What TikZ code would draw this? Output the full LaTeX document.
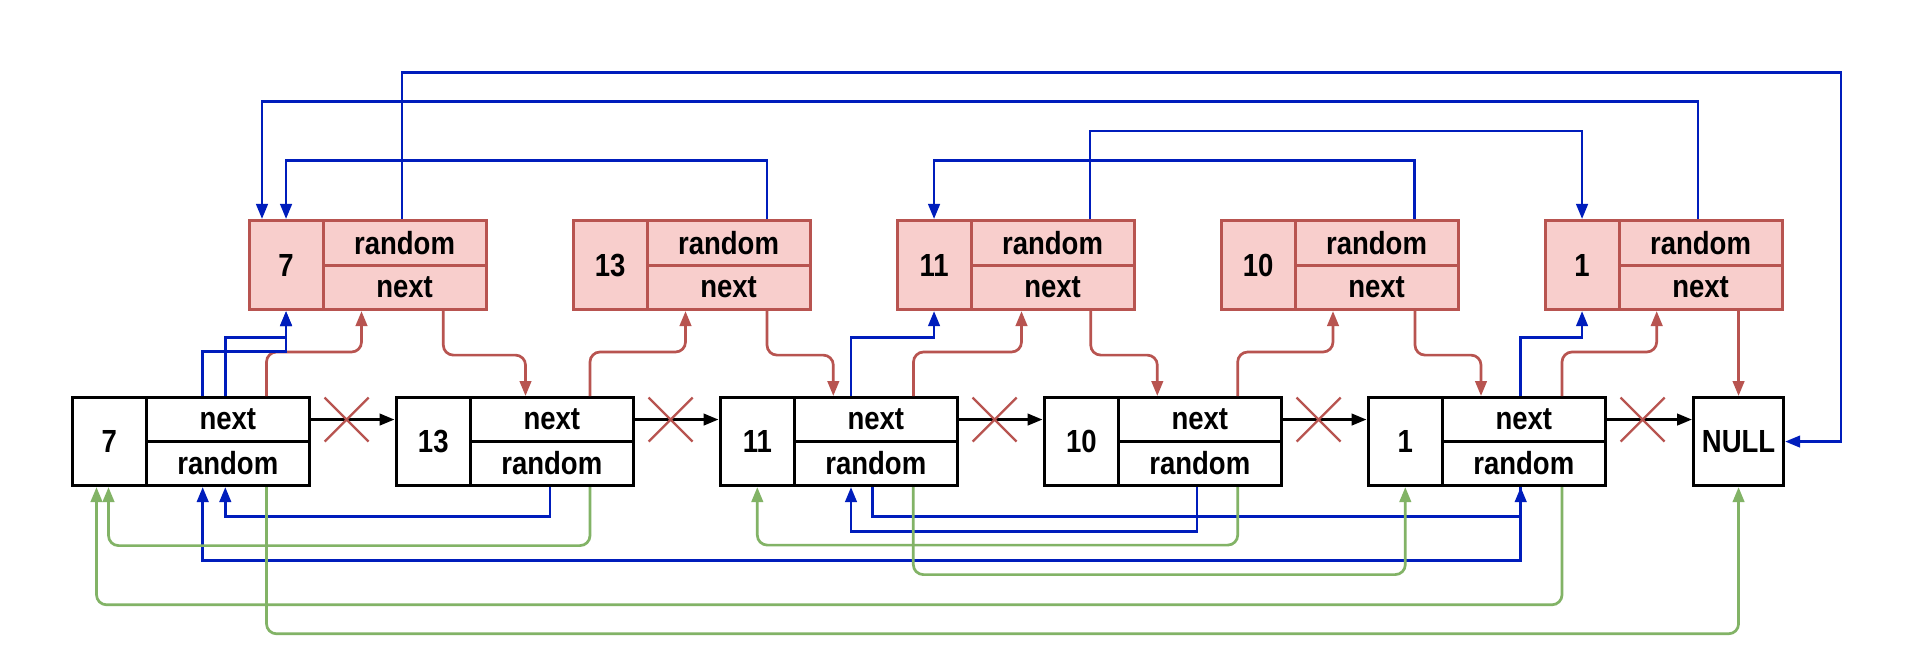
\documentclass[tikz,border=0pt]{standalone}
\usepackage{fontspec}
\setmainfont{Liberation Sans}[FakeStretch=0.86]
\usetikzlibrary{arrows.meta,calc}
\definecolor{rline}{HTML}{B85450}
\definecolor{rfill}{HTML}{F8CECC}
\definecolor{bline}{HTML}{001DBC}
\definecolor{gline}{HTML}{82B366}
\tikzset{
  lbl/.style={font=\fontsize{32}{38}\selectfont\bfseries, text=black},
  bval/.style={lbl, draw=black, line width=3.1pt, fill=white, inner sep=0pt, anchor=north west, minimum width=74.5pt, minimum height=88pt},
  bfld/.style={lbl, draw=black, line width=3.1pt, fill=white, inner sep=0pt, anchor=north west, minimum width=162.5pt, minimum height=44pt},
  rval/.style={lbl, draw=rline, line width=3.1pt, fill=rfill, inner sep=0pt, anchor=north west, minimum width=74pt, minimum height=89pt},
  rfld/.style={lbl, draw=rline, line width=3.1pt, fill=rfill, inner sep=0pt, anchor=north west, minimum width=163pt, minimum height=44.5pt},
  tip/.style={-{Triangle[length=15pt,width=11.5pt]}},
  redc/.style={tip, draw=rline, line width=2.7pt, rounded corners=10pt},
  greenc/.style={tip, draw=gline, line width=2.7pt, rounded corners=10pt},
  bluec/.style={tip, draw=bline, line width=2.7pt},
  blackc/.style={tip, draw=black, line width=2.7pt},
  xmark/.style={draw=rline, line width=2.3pt},
}
\begin{document}
\begin{tikzpicture}[x=1pt,y=-1pt]
\fill[white] (0,0) rectangle (1906,655);
\useasboundingbox (0,0) rectangle (1906,655);

% original list (black)
\foreach \v/\x in {7/70.5, 13/394.5, 11/718.5, 10/1042.5, 1/1366.5} {
  \node[bval] (bv\v) at (\x,396) {\v};
  \node[bfld] (bn\v) at (\x+74.5,396) {next};
  \node[bfld] (br\v) at (\x+74.5,440) {random};
}
\node[bval, minimum width=90pt] (null) at (1692,396) {NULL};

% copies (red)
\foreach \v/\x in {7/247.5, 13/571.5, 11/895.5, 10/1219.5, 1/1543.5} {
  \node[rval] (cv\v) at (\x,219) {\v};
  \node[rfld] (cr\v) at (\x+74,219) {random};
  \node[rfld] (cn\v) at (\x+74,263.5) {next};
}

% black next arrows and crosses
\foreach \a/\b in {7/13, 13/11, 11/10, 10/1} {
  \draw[blackc] (bn\a.east) -- (bn\a.east -| bv\b.west);
  \draw[xmark] ([shift={(14,-22)}]bn\a.east) -- ++(44,44)
               ([shift={(14,22)}]bn\a.east) -- ++(44,-44);
}
\draw[blackc] (bn1.east) -- (bn1.east -| null.west);
\draw[xmark] ([shift={(14,-22)}]bn1.east) -- ++(44,44)
             ([shift={(14,22)}]bn1.east) -- ++(44,-44);

% red: original next -> copy
\draw[redc] ([xshift=196pt]bv7.north west) -- ++(0,-44) -| ([xshift=114pt]cv7.south west);
\draw[redc] ([xshift=195.5pt]bv13.north west) -- ++(0,-44) -| ([xshift=114pt]cv13.south west);
\draw[redc] ([xshift=195pt]bv11.north west) -- ++(0,-44) -| ([xshift=126pt]cv11.south west);
\draw[redc] ([xshift=195.2pt]bv10.north west) -- ++(0,-44) -| ([xshift=113.5pt]cv10.south west);
\draw[redc] ([xshift=195.5pt]bv1.north west) -- ++(0,-44) -| ([xshift=113.2pt]cv1.south west);
% red: copy next -> following original
\draw[redc] ([xshift=195.8pt]cv7.south west) -- ++(0,44) -| ([xshift=131pt]bv13.north west);
\draw[redc] ([xshift=195.5pt]cv13.south west) -- ++(0,44) -| ([xshift=114.8pt]bv11.north west);
\draw[redc] ([xshift=195.2pt]cv11.south west) -- ++(0,44) -| ([xshift=114.8pt]bv10.north west);
\draw[redc] ([xshift=195.5pt]cv10.south west) -- ++(0,44) -| ([xshift=114.5pt]bv1.north west);
\draw[redc] (cv1.south -| null.north) -- (null.north);

% blue: original -> copy value
\draw[bluec] ([xshift=132.2pt]bv7.north west) -- ++(0,-44.3) -| (cv7.south);
\draw[bluec] ([xshift=154.8pt]bv7.north west) -- ++(0,-58.7) -| (cv7.south);
\draw[bluec] ([xshift=132.5pt]bv11.north west) -- ++(0,-58.7) -| (cv11.south);
\draw[bluec] ([xshift=154.2pt]bv1.north west) -- ++(0,-58.7) -| (cv1.south);

% blue: original random pointers
\draw[bluec] ([xshift=155.5pt]bv13.south west) -- ++(0,29.3) -| ([xshift=154.8pt]bv7.south west);
\draw[bluec] ([xshift=154.2pt]bv11.south west) -- ++(0,29.3) -| ([xshift=154.2pt]bv1.south west);
\draw[bluec] ([xshift=154.5pt]bv10.south west) -- ++(0,44.3) -| ([xshift=132.5pt]bv11.south west);
\draw[bluec] ([xshift=154.2pt]bv1.south west) -- ++(0,73.3) -| ([xshift=132.2pt]bv7.south west);

% blue: copy random pointers
\draw[bluec] ([xshift=154.5pt]cv7.north west) -- ++(0,-146.3) -| ([xshift=56pt]null.east) -- (null.east);
\draw[bluec] ([xshift=195.5pt]cv13.north west) -- ++(0,-58.3) -| (cv7.north);
\draw[bluec] ([xshift=194.5pt]cv11.north west) -- ++(0,-88) -| (cv1.north);
\draw[bluec] ([xshift=195pt]cv10.north west) -- ++(0,-58.3) -| (cv11.north);
\draw[bluec] ([xshift=154.5pt]cv1.north west) -- ++(0,-117.3) -| ([xshift=14.5pt]cv7.north west);

% green: new random pointers
\draw[greenc] ([xshift=195.5pt]bv13.south west) -- ++(0,58.5) -| ([xshift=38pt]bv7.south west);
\draw[greenc] ([xshift=195.5pt]bv1.south west) -- ++(0,117.7) -| ([xshift=26pt]bv7.south west);
\draw[greenc] ([xshift=196pt]bv7.south west) -- ++(0,146.7) -| (null.south);
\draw[greenc] ([xshift=195.2pt]bv10.south west) -- ++(0,58) -| (bv11.south);
\draw[greenc] ([xshift=194.8pt]bv11.south west) -- ++(0,87.5) -| (bv1.south);
\end{tikzpicture}
\end{document}
